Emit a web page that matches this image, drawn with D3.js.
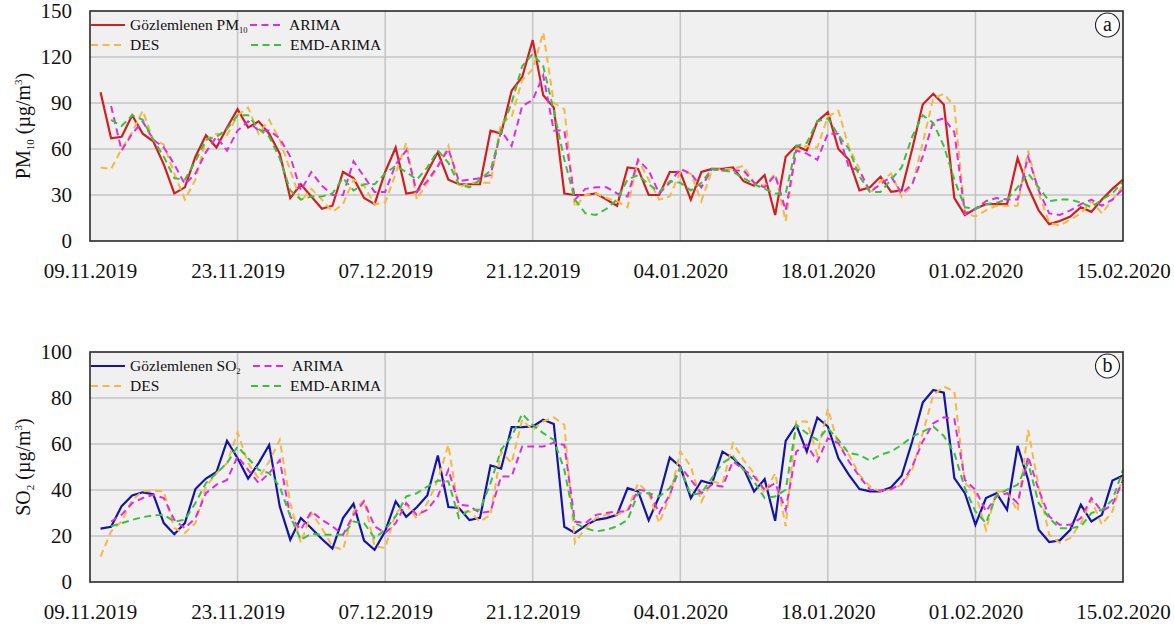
<!DOCTYPE html>
<html>
<head>
<meta charset="utf-8">
<script src="https://cdn.jsdelivr.net/npm/d3@7"></script>
<style>
  html, body { margin: 0; padding: 0; background: #ffffff; }
  svg text { font-family: "Liberation Serif", "Times New Roman", serif; fill: #111; }
</style>
</head>
<body>
<svg id="chart" width="1174" height="626"></svg>
<script>
// Daily series, 10.11.2019 - 15.02.2020 (98 days)
const firstDay = "10.11.2019";
const axisStart = "09.11.2019";
const tickLabels = ["09.11.2019", "23.11.2019", "07.12.2019", "21.12.2019",
                    "04.01.2020", "18.01.2020", "01.02.2020", "15.02.2020"];

// PM10 (µg/m³)
const pm10Observed = [97,67,68,82,70,65,50,31,35,55,69,61,74,86,74,78,70,57,28,37,
  29,21,23,45,41,28,24,45,61,31,32,45,58,40,37,37,37,72,70,98,
  107,131,95,87,31,30,30,31,27,23,48,47,30,30,45,45,27,45,47,47,
  48,39,36,43,17,55,62,59,78,84,60,53,33,35,42,32,33,60,89,96,
  89,28,17,21,24,24,24,54,35,20,11,13,16,22,19,27,34,40];
const pm10DES = [48,47,60,71,85,66,63,44,27,40,66,70,69,82,87,70,79,66,46,26,
  34,27,19,24,40,36,24,25,44,64,27,38,48,62,35,38,38,38,77,81,
  105,112,136,90,86,22,30,31,28,26,22,53,40,27,29,45,44,26,46,47,
  47,49,38,36,44,13,60,62,61,81,85,61,47,31,39,44,29,36,64,93,
  96,88,18,16,20,23,23,23,59,31,12,10,14,18,26,18,27,36];
const pm10ARIMA = [null,88,59,70,78,66,61,50,37,44,58,68,59,72,78,72,72,67,55,33,
  45,36,30,30,52,42,32,32,50,59,32,39,49,60,39,40,41,43,72,62,
  88,92,108,72,72,27,34,35,35,31,29,53,46,31,38,47,44,35,47,46,
  46,46,38,35,43,20,59,57,53,70,70,48,46,32,37,42,31,37,55,78,
  80,71,18,21,26,28,27,27,55,33,18,17,20,24,27,23,27,34];
const pm10EMD = [null,79,75,82,79,66,55,41,40,52,66,68,73,82,82,73,68,54,33,27,
  29,29,31,41,33,37,37,44,49,45,40,48,59,51,37,35,40,46,72,90,
  114,122,114,85,53,27,18,17,21,27,40,43,37,32,39,38,33,38,47,46,
  45,41,37,34,31,31,62,64,78,80,69,60,42,32,32,40,48,68,82,77,
  62,40,22,21,24,25,27,35,44,35,26,27,27,25,22,27,31,39];

// SO2 (µg/m³)
const so2Observed = [23.2,24,33,37.6,39,38.2,25.6,20.8,25.6,40.4,45,47.8,61.4,53.8,45,51.7,59.6,32.9,18.4,27.8,
  23.4,18.7,14.5,27.8,34,18,14,22,35,28.3,32.5,37.6,55,32.6,32.2,26.9,27.9,50.7,49.3,67.3,
  67.3,67.6,70.5,68.7,24,21.3,24.5,27,27.8,29.2,40.8,39.4,26.8,37.2,54.1,50.2,36.5,44,42.7,56.7,
  53.8,49.5,39.4,44.7,26.6,61.4,68.3,56.7,71.5,67.6,53.8,46.6,40.4,39.4,39.4,41.2,46.2,61.1,78,83.5,
  82.3,45.2,38.6,24.9,36.5,38.6,31.4,59.2,44.4,22.7,17.4,18.1,22.7,33.6,26.3,29.2,44.1,46.3];
const so2DES = [11,22,26.3,35.7,39.4,39.6,39.4,23.4,21.3,25.6,41.5,47.3,51.7,65,51.7,45,52.4,61.8,34.3,17,
  30,23.4,15.5,14,30.7,35.7,15.5,14.8,30,34,27.5,34.3,44.4,59.6,30.7,30.7,26.3,29.2,56.7,51.7,
  70.5,66.1,69.8,71.6,68.3,17,23.4,27.8,29.2,29.2,31.4,43,38.6,25.6,37.2,56.7,50.2,35,43.7,42.7,
  60.3,53.1,47.3,38.6,47.3,24.2,69.8,69.8,55.3,75.3,59.6,55.3,46.6,41.5,39.4,40.1,42.3,48.8,64.7,81.3,
  85,82.8,43,38.6,22.7,39.4,39.4,30.7,66.1,41.5,20.5,17,19.1,25.6,35.7,24.9,30.7,45.9];
const so2ARIMA = [null,26.3,29.2,34.3,36.5,37.9,36.5,27,23.4,27.8,38.6,42.3,44.4,54.6,48.8,43,47.3,53,28.5,22.7,
  30.7,27,24.2,20.5,29.2,35,24.2,21.3,25.6,34.3,29.2,31.4,37.2,48.8,33.6,33.1,30,30.7,45.9,45.9,
  58.9,58.9,58.9,60.6,59.6,26.3,25.6,29.2,30,30.7,30.7,40.1,39.4,30,37.9,50.2,44.4,38.6,42.3,41.5,
  52.4,48.8,45.9,40.1,43,31.4,56.7,59.6,52.4,62.5,60.3,52.4,45.9,40.1,39.8,40.4,42.7,50.2,61.1,69,
  71.6,70.8,44.4,40.1,30.7,37.2,38.6,34.3,54.6,40.1,28.5,24.9,24.9,27.8,36.5,30.7,33.6,44.4];
const so2EMD = [null,24.2,25.6,27,28.2,29,29.2,26.3,27,34.3,43,47.3,51.7,58.9,53.8,48.8,47.3,41.5,28.5,18.4,
  21,20.5,20.5,20.5,26.3,25.6,19.1,22.7,28.5,37.2,38.6,41.5,44.1,43.7,27.8,31.4,31.4,43,57.5,63.2,
  73.1,68.3,64.7,61.8,48.8,25.6,23.4,22,22.7,24.2,27,38.6,38.6,37.2,40.8,49.5,37.9,38.6,45.2,51.7,
  54.6,48.8,43.7,36.5,37.2,40.1,68.3,64.7,61.8,66.9,61.8,56,55.3,52.8,55.3,56.7,59.6,63.2,65.4,67.6,
  63.5,56,40.8,30.7,25.6,37.9,40.1,42.3,51.7,34.3,27.8,23.4,23.4,24.2,30,31.4,35.7,48.8];

const pm10Ticks = [0, 30, 60, 90, 120, 150];
const so2Ticks = [0, 20, 40, 60, 80, 100];

const parse = d3.timeParse("%d.%m.%Y");
const start = parse(firstDay);
const dates = pm10Observed.map((_, i) => d3.timeDay.offset(start, i));
const tickDates = tickLabels.map(parse);

const svg = d3.select("#chart");

const colors = {
  obsPM: "#d11f1f",
  obsSO: "#1414a8",
  des: "#f5b840",
  arima: "#e22ae2",
  emd: "#3fbf3f"
};

const x = d3.scaleTime()
  .domain([parse(axisStart), tickDates[tickDates.length - 1]])
  .range([90, 1123]);

function panel(opts) {
  const { top, bottom, yTicks, series, obsLabel, obsSub, subDy, badge, yTitle, yTitleSub, arimaX } = opts;
  const y = d3.scaleLinear()
    .domain([0, yTicks[yTicks.length - 1]])
    .range([bottom, top]);
  const g = svg.append("g");

  // plot background
  g.append("rect")
    .attr("x", x.range()[0]).attr("y", top)
    .attr("width", x.range()[1] - x.range()[0]).attr("height", bottom - top)
    .attr("fill", "#f0f0f0");

  // grid
  g.append("g")
    .selectAll("line.h").data(yTicks.slice(1, -1)).join("line")
    .attr("x1", x.range()[0]).attr("x2", x.range()[1])
    .attr("y1", d => y(d)).attr("y2", d => y(d))
    .attr("stroke", "#c4c4c4").attr("stroke-width", 1.5);
  g.append("g")
    .selectAll("line.v").data(tickDates.slice(1, -1)).join("line")
    .attr("y1", top).attr("y2", bottom)
    .attr("x1", d => x(d)).attr("x2", d => x(d))
    .attr("stroke", "#c4c4c4").attr("stroke-width", 1.5);

  // axes (labels only)
  const yAxis = d3.axisLeft(y).tickValues(yTicks).tickSize(0).tickPadding(18);
  const ya = g.append("g").attr("transform", `translate(${x.range()[0]},0)`).call(yAxis);
  ya.select(".domain").remove();
  ya.selectAll("text").attr("font-size", 21).attr("fill", "#111");

  const xAxis = d3.axisBottom(x).tickValues(tickDates).tickSize(0).tickPadding(22)
    .tickFormat((d, i) => tickLabels[i]);
  const xa = g.append("g").attr("transform", `translate(0,${bottom})`).call(xAxis);
  xa.select(".domain").remove();
  xa.selectAll("text").attr("font-size", 21).attr("fill", "#111");

  // series
  const line = d3.line()
    .defined(d => d[1] != null)
    .x(d => x(d[0]))
    .y(d => y(d[1]));
  series.forEach(s => {
    g.append("path")
      .datum(s.values.map((v, i) => [dates[i], v]))
      .attr("fill", "none")
      .attr("stroke", s.color)
      .attr("stroke-width", s.dashed ? 2 : 2.2)
      .attr("stroke-dasharray", s.dashed ? "7,4.5" : null)
      .attr("stroke-linejoin", "miter")
      .attr("d", line);
  });

  // frame
  g.append("rect")
    .attr("x", x.range()[0]).attr("y", top)
    .attr("width", x.range()[1] - x.range()[0]).attr("height", bottom - top)
    .attr("fill", "none").attr("stroke", "#2a2a2a").attr("stroke-width", 1.6);

  // legend
  const lg = g.append("g").attr("font-size", 15.5);
  const rows = [
    { s: series[0], lx: 91, ty: top + 14 },
    { s: series[1], lx: 91, ty: top + 34 },
    { s: series[2], lx: arimaX, ty: top + 14 },
    { s: series[3], lx: 251, ty: top + 34 }
  ];
  rows.forEach((r, i) => {
    lg.append("line")
      .attr("x1", r.lx).attr("x2", r.lx + 34)
      .attr("y1", r.ty).attr("y2", r.ty)
      .attr("stroke", r.s.color).attr("stroke-width", 2)
      .attr("stroke-dasharray", r.s.dashed ? "7,4.5" : null);
    const t = lg.append("text")
      .attr("x", r.lx + 39).attr("y", r.ty + 5);
    if (i === 0) {
      t.append("tspan").text(obsLabel);
      t.append("tspan").attr("font-size", 8.5).attr("dy", subDy).text(obsSub);
    } else {
      t.text(r.s.name);
    }
  });

  // panel badge
  const bx = 1107.5, by = top + 14;
  g.append("circle").attr("cx", bx).attr("cy", by).attr("r", 12)
    .attr("fill", "#ffffff").attr("stroke", "#222").attr("stroke-width", 1.1);
  g.append("text").attr("x", bx).attr("y", by + 6).attr("text-anchor", "middle")
    .attr("font-size", 20).text(badge);

  // y title
  const cy = (top + bottom) / 2;
  const tt = g.append("text")
    .attr("transform", `translate(30,${cy}) rotate(-90)`)
    .attr("text-anchor", "middle")
    .attr("font-size", 20);
  tt.append("tspan").text(yTitle);
  tt.append("tspan").attr("font-size", 11).attr("dy", 4).text(yTitleSub);
  tt.append("tspan").attr("dy", -4).text(" (µg/m");
  tt.append("tspan").attr("font-size", 11).attr("dy", -8).text("3");
  tt.append("tspan").attr("dy", 8).text(")");
}

panel({
  top: 11, bottom: 241, yTicks: pm10Ticks,
  obsLabel: "Gözlemlenen PM", obsSub: "10", subDy: 3,
  badge: "a", yTitle: "PM", yTitleSub: "10", arimaX: 250,
  series: [
    { name: "Gözlemlenen PM10", values: pm10Observed, color: colors.obsPM, dashed: false },
    { name: "DES", values: pm10DES, color: colors.des, dashed: true },
    { name: "ARIMA", values: pm10ARIMA, color: colors.arima, dashed: true },
    { name: "EMD-ARIMA", values: pm10EMD, color: colors.emd, dashed: true }
  ]
});

panel({
  top: 352, bottom: 582, yTicks: so2Ticks,
  obsLabel: "Gözlemlenen SO", obsSub: "2", subDy: 3,
  badge: "b", yTitle: "SO", yTitleSub: "2", arimaX: 253,
  series: [
    { name: "Gözlemlenen SO2", values: so2Observed, color: colors.obsSO, dashed: false },
    { name: "DES", values: so2DES, color: colors.des, dashed: true },
    { name: "ARIMA", values: so2ARIMA, color: colors.arima, dashed: true },
    { name: "EMD-ARIMA", values: so2EMD, color: colors.emd, dashed: true }
  ]
});
</script>
</body>
</html>
